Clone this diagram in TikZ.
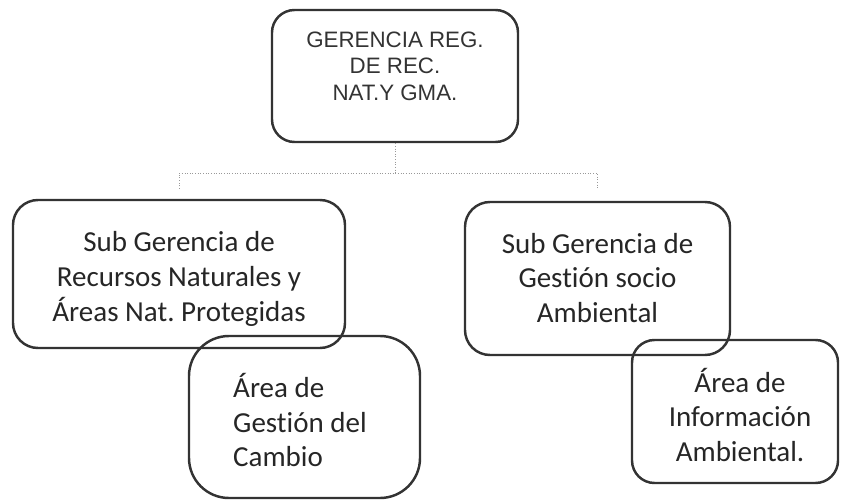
\documentclass[tikz,border=0pt]{standalone}
\usepackage{fontspec}
\setmainfont{Carlito}[Ligatures=NoCommon]
\newfontfamily\arialfont{Liberation Sans}
\usetikzlibrary{positioning}
\frenchspacing

\tikzset{
    box/.style={draw=black!80, line width=1.4pt, rounded corners=#1, inner sep=0pt},
    box/.default=0.45cm,
    conn/.style={draw=black!40, line width=0.5pt, densely dotted},
    subtxt/.style={align=center, font=\fontsize{16.5}{19.8}\selectfont, text=black!85},
    toptxt/.style={align=center, font=\arialfont\fontsize{12.7}{15}\selectfont, text=black!80},
}

\begin{document}
\begin{tikzpicture}
    \useasboundingbox (0,0) rectangle (16.84,10.04);
    % boxes
    \node[box, minimum width=4.92cm, minimum height=2.64cm] (ger) at (7.9,8.52) {};
    \node[box=0.5cm, minimum width=6.64cm, minimum height=2.96cm] (subrn) at (3.58,4.56) {};
    \node[box=0.5cm, minimum width=5.3cm, minimum height=3.06cm] (subga) at (11.95,4.47) {};
    \node[box=0.8cm, minimum width=4.62cm, minimum height=3.24cm] (gescam) at (6.09,1.7) {};
    \node[box, minimum width=4.12cm, minimum height=2.86cm] (infamb) at (14.7,1.81) {};
    % texts
    \node[toptxt] (gertxt) at (7.9,8.72) {GERENCIA REG.\\DE REC.\\NAT.Y GMA.};
    \node[subtxt] (subrntxt) at (3.58,4.46) {Sub Gerencia de\\Recursos Naturales y\\Áreas Nat. Protegidas};
    \node[subtxt] (subgatxt) at (11.95,4.48) {Sub Gerencia de\\Gestión socio\\Ambiental};
    \node[subtxt, align=left, anchor=west] (gescamtxt) at (4.54,1.64) {Área de\\Gestión del\\Cambio};
    \node[subtxt] (infambtxt) at (14.8,1.74) {Área de\\Información\\Ambiental.};
    % connectors
    \draw[conn] (ger.south) -- ++(0,-0.6) coordinate (bus);
    \draw[conn] ([yshift=0.2cm]subrn.north) |- (bus) -| ([yshift=0.22cm]subga.north);
\end{tikzpicture}
\end{document}
